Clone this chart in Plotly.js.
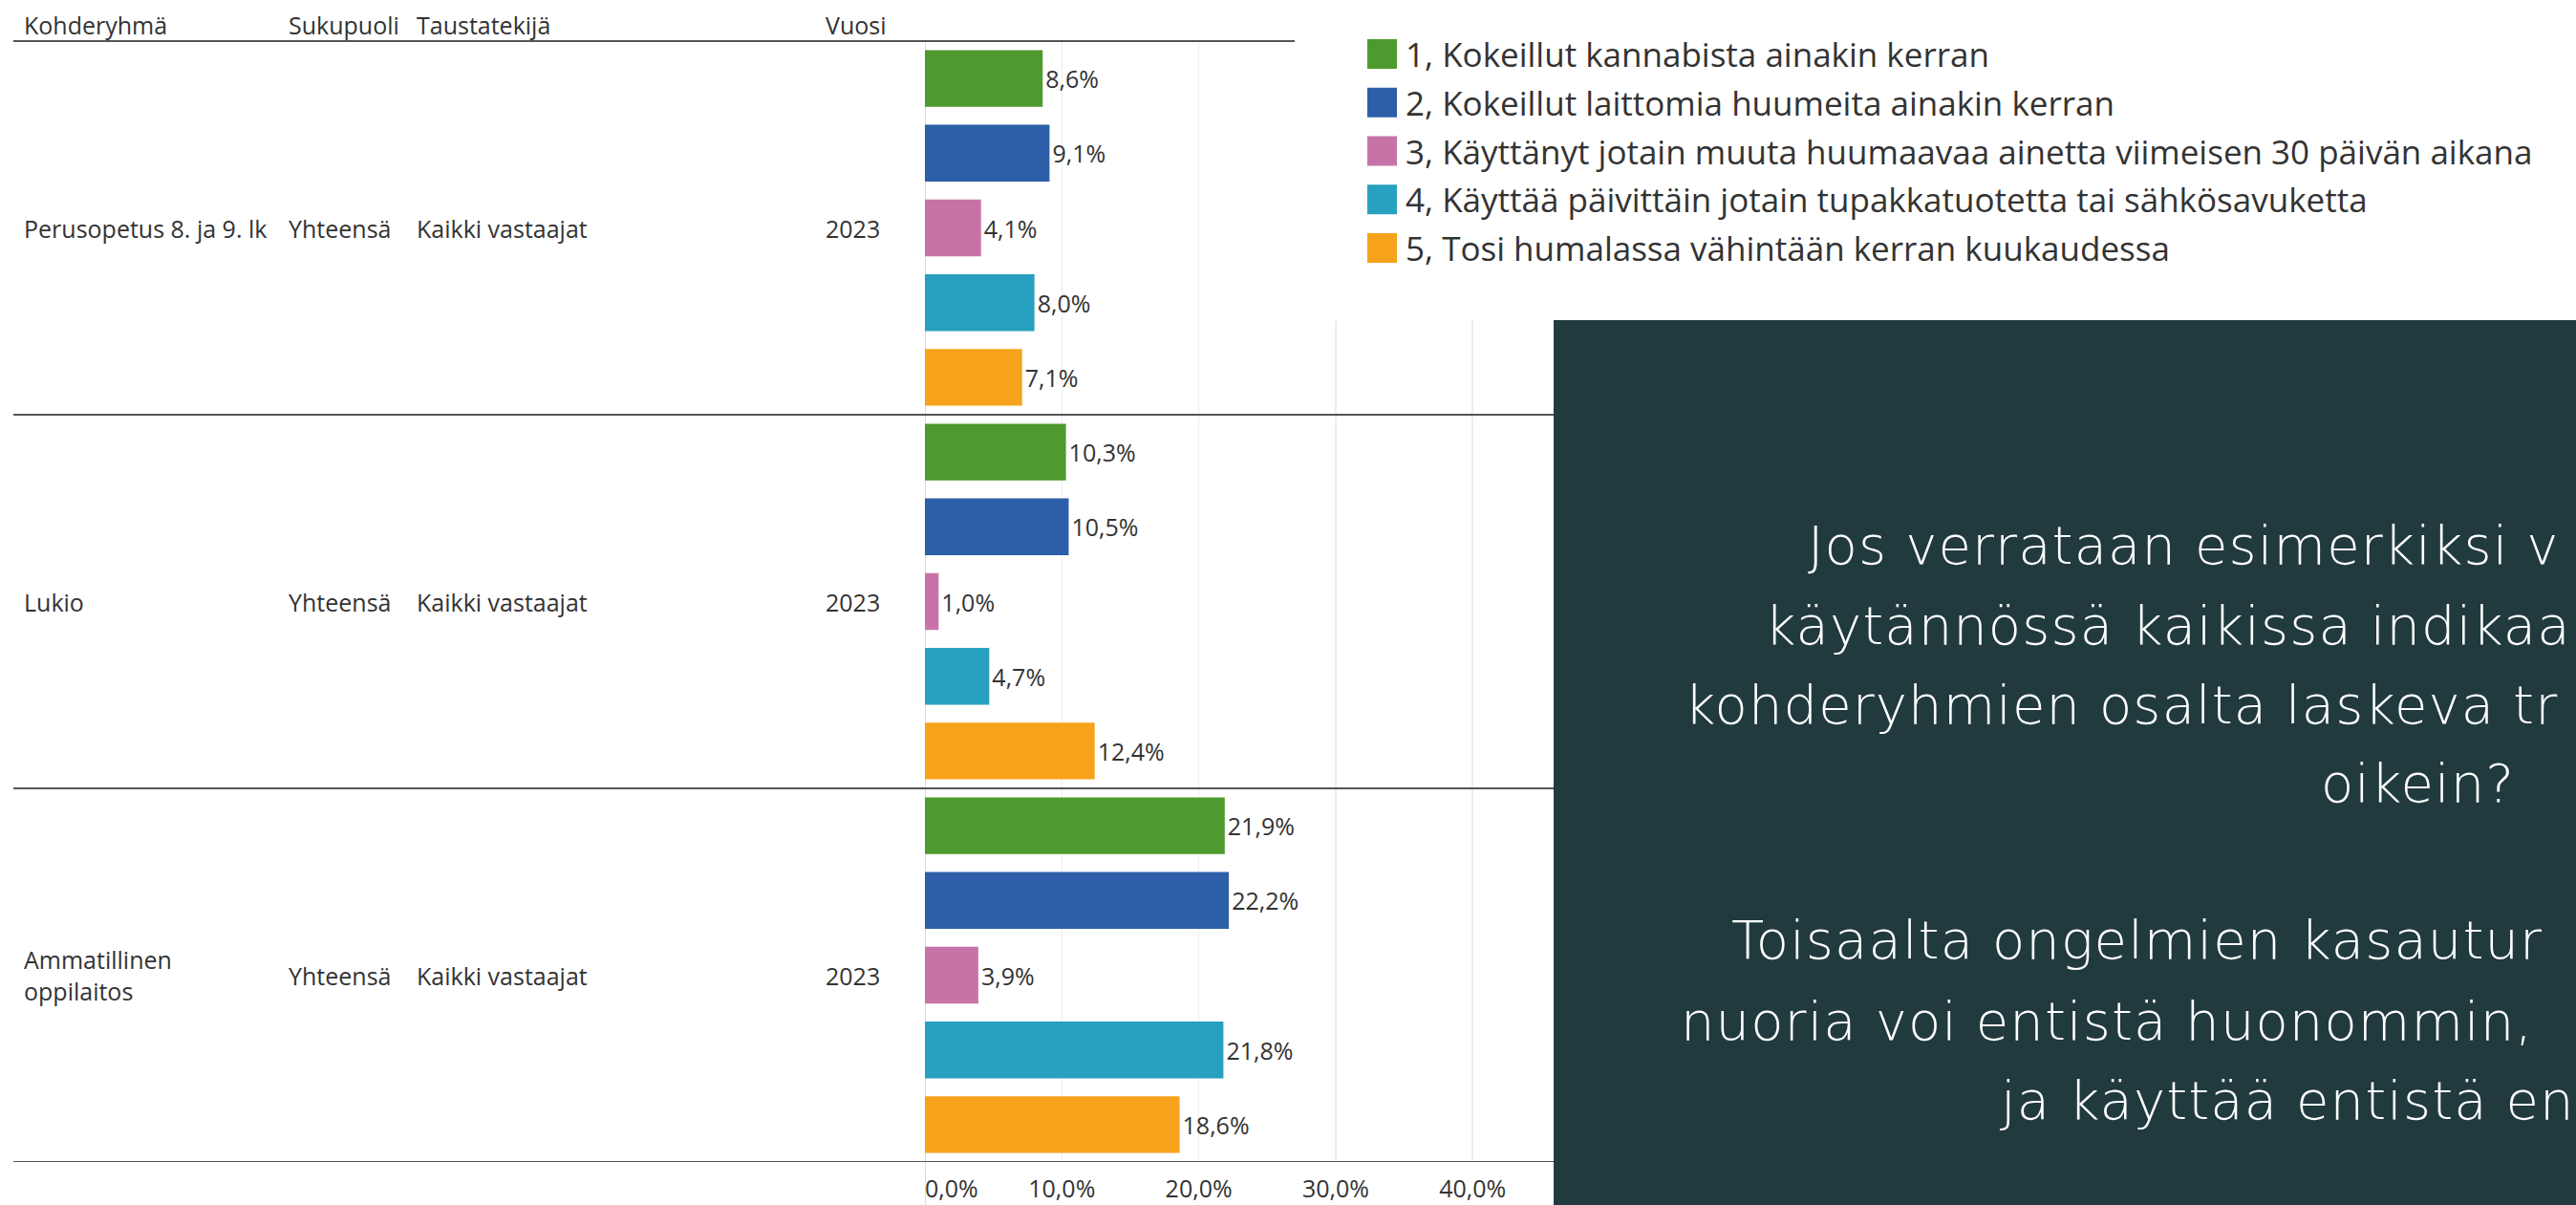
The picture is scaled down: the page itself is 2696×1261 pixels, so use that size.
<!DOCTYPE html>
<html>
<head>
<meta charset="utf-8">
<script src="https://cdn.plot.ly/plotly-3.0.1.min.js"></script>
<style>
  html, body { margin: 0; padding: 0; background: #ffffff; overflow: hidden; }
  #chart { width: 2696px; height: 1261px; }
  /* the slide text uses a wide light face: widen the fallback font a little */
  text.annotation-text[style*="font-size: 56px"] { letter-spacing: 1.1px; }
</style>
</head>
<body>
<div id="chart"></div>
<script>
// ---------------- DATA ----------------
const headers = ['Kohderyhmä', 'Sukupuoli', 'Taustatekijä', 'Vuosi'];
const kohderyhma = ['Perusopetus 8. ja 9. lk', 'Lukio', 'Ammatillinen<br>oppilaitos'];
const sukupuoli = ['Yhteensä', 'Yhteensä', 'Yhteensä'];
const taustatekija = ['Kaikki vastaajat', 'Kaikki vastaajat', 'Kaikki vastaajat'];
const vuosi = ['2023', '2023', '2023'];

const seriesNames = [
  '1, Kokeillut kannabista ainakin kerran',
  '2, Kokeillut laittomia huumeita ainakin kerran',
  '3, Käyttänyt jotain muuta huumaavaa ainetta viimeisen 30 päivän aikana',
  '4, Käyttää päivittäin jotain tupakkatuotetta tai sähkösavuketta',
  '5, Tosi humalassa vähintään kerran kuukaudessa'
];
const kannabis = [8.6, 10.3, 21.9];
const huumeet  = [9.1, 10.5, 22.2];
const muuAine  = [4.1, 1.0, 3.9];
const tupakka  = [8.0, 4.7, 21.8];
const humala   = [7.1, 12.4, 18.6];
const seriesValues = [kannabis, huumeet, muuAine, tupakka, humala];

const tickValues = [0, 10, 20, 30, 40];
const tickLabels = ['0,0%', '10,0%', '20,0%', '30,0%', '40,0%'];

const boxLines = [
  'Jos verrataan esimerkiksi v',
  'käytännössä kaikissa indikaa',
  'kohderyhmien osalta laskeva tr',
  'oikein?',
  '',
  'Toisaalta ongelmien kasautur',
  'nuoria voi entistä huonommin,',
  'ja käyttää entistä en'
];

// ---------------- STYLE / GEOMETRY ----------------
const seriesColors = ['#4f9a2e', '#2d5ea8', '#c873a8', '#28a0bf', '#f7a21b'];
const W = 2696, H = 1261;
const M = { l: 968, r: 0, t: 43, b: 45 };
const PW = W - M.l - M.r, PH = H - M.t - M.b;
const pxPerUnit = 14.33;
const xMax = PW / pxPerUnit;
const nSeries = seriesValues.length;
const nGroups = kohderyhma.length;
const nSlots = nSeries * nGroups;
const textColor = '#333333';
const tableFont = 'Open Sans, Noto Sans, sans-serif';
const tableSize = 25;

const px2x = p => (p - M.l) / PW;        // pixel x -> paper x
const px2y = p => 1 - (p - M.t) / PH;    // pixel y -> paper y
const fmt = v => v.toFixed(1).replace('.', ',') + '%';

// ---------------- TRACES ----------------
const traces = seriesValues.map((vals, s) => ({
  type: 'bar',
  orientation: 'h',
  name: seriesNames[s],
  x: vals,
  y: vals.map((v, g) => g * nSeries + s),
  width: 0.76,
  marker: { color: seriesColors[s], line: { width: 0 } },
  text: vals.map(fmt),
  textposition: 'outside',
  constraintext: 'none',
  cliponaxis: false,
  textfont: { family: tableFont, size: tableSize, color: textColor },
  hoverinfo: 'skip',
  showlegend: false
}));
// helper trace so the overlay axis (for the left-aligned 0-label) exists
traces.push({ type: 'scatter', mode: 'markers', x: [null], y: [null], xaxis: 'x2', yaxis: 'y', showlegend: false, hoverinfo: 'skip' });

// ---------------- SHAPES ----------------
const shapes = [];
// zero line
shapes.push({ type: 'line', layer: 'below', xref: 'x', yref: 'paper', x0: 0, x1: 0, y0: 1, y1: px2y(H + 5),
  line: { color: '#d2d2d2', width: 1.5 } });
// header line
shapes.push({ type: 'line', layer: 'above', xref: 'paper', yref: 'paper', x0: px2x(14), x1: px2x(1355), y0: 1, y1: 1,
  line: { color: '#555555', width: 2.2 } });
// group separators
for (let g = 1; g <= nGroups; g++) {
  shapes.push({ type: 'line', layer: 'above', xref: 'paper', yref: 'y', x0: px2x(14), x1: 1.01,
    y0: g * nSeries - 0.5, y1: g * nSeries - 0.5, line: { color: '#555555', width: 2.2 } });
}
// white legend background (covers gridlines)
shapes.push({ type: 'rect', layer: 'above', xref: 'paper', yref: 'paper', x0: px2x(1357), x1: 1.01,
  y0: px2y(335), y1: px2y(-5), fillcolor: '#ffffff', line: { width: 0 } });
// legend squares
seriesNames.forEach((n, i) => {
  const cy = 56.5 + i * 50.75;
  shapes.push({ type: 'rect', layer: 'above', xref: 'paper', yref: 'paper',
    x0: px2x(1431), x1: px2x(1462), y0: px2y(cy + 15.5), y1: px2y(cy - 15.5),
    fillcolor: seriesColors[i], line: { color: seriesColors[i], width: 0 } });
});
// dark text box
shapes.push({ type: 'rect', layer: 'above', xref: 'paper', yref: 'paper', x0: px2x(1626), x1: 1.01,
  y0: px2y(H + 10), y1: px2y(335), fillcolor: '#213a3e', line: { width: 0 } });

// ---------------- ANNOTATIONS ----------------
const annotations = [];
const colX = [23, 300, 434, 862];
headers.forEach((h, i) => {
  annotations.push({ text: h, xref: 'paper', yref: 'paper', x: px2x(colX[i]), y: px2y(26),
    xanchor: 'left', yanchor: 'middle', showarrow: false, font: { family: tableFont, size: tableSize, color: textColor } });
});
const rowCols = [kohderyhma, sukupuoli, taustatekija, vuosi];
for (let g = 0; g < nGroups; g++) {
  rowCols.forEach((col, i) => {
    annotations.push({ text: col[g], xref: 'paper', yref: 'y', x: px2x(colX[i]), y: g * nSeries + (nSeries - 1) / 2,
      xanchor: 'left', yanchor: 'middle', align: 'left', showarrow: false,
      font: { family: tableFont, size: tableSize, color: textColor } });
  });
}
// legend labels
seriesNames.forEach((n, i) => {
  annotations.push({ text: n, xref: 'paper', yref: 'paper', x: px2x(1469), y: px2y(56.5 + i * 50.75),
    xanchor: 'left', yanchor: 'middle', showarrow: false, font: { family: tableFont, size: 35, color: textColor } });
});
// text in the dark box
const boxStarts = [1890, 1845, 1761, 2427, 0, 1810, 1757, 2090];
const boxBaselines = [588, 672, 755, 837, 0, 1001, 1086, 1169];
boxLines.forEach((t, i) => {
  if (!t) return;
  annotations.push({ text: t, xref: 'paper', yref: 'paper', x: px2x(boxStarts[i]), y: px2y(boxBaselines[i] - 18),
    xanchor: 'left', yanchor: 'middle', showarrow: false,
    font: { family: 'DejaVu Sans, sans-serif', size: 56, color: '#ffffff', weight: 200 } });
});

// ---------------- LAYOUT ----------------
const layout = {
  width: W, height: H,
  margin: M,
  paper_bgcolor: '#ffffff', plot_bgcolor: '#ffffff',
  barmode: 'overlay',
  showlegend: false,
  xaxis: {
    range: [0, xMax], fixedrange: true,
    tickvals: tickValues.slice(1), ticktext: tickLabels.slice(1),
    showgrid: true, gridcolor: '#ededed', gridwidth: 1.5,
    zeroline: false, showline: false, ticks: '',
    ticklabelstandoff: 11,
    tickfont: { family: tableFont, size: tableSize, color: textColor }
  },
  xaxis2: {
    overlaying: 'x', anchor: 'y', side: 'bottom', matches: 'x',
    range: [0, xMax],
    tickvals: tickValues.slice(0, 1), ticktext: tickLabels.slice(0, 1),
    ticklabelposition: 'outside right',
    showgrid: false, zeroline: false, showline: false, ticks: '',
    ticklabelstandoff: 11,
    tickfont: { family: tableFont, size: tableSize, color: textColor }
  },
  yaxis: {
    range: [nSlots - 0.5, -0.5], fixedrange: true,
    showticklabels: false, showgrid: false, zeroline: false, showline: false, ticks: ''
  },
  shapes: shapes,
  annotations: annotations
};

Plotly.newPlot('chart', traces, layout, { displayModeBar: false, staticPlot: true });
</script>
</body>
</html>
